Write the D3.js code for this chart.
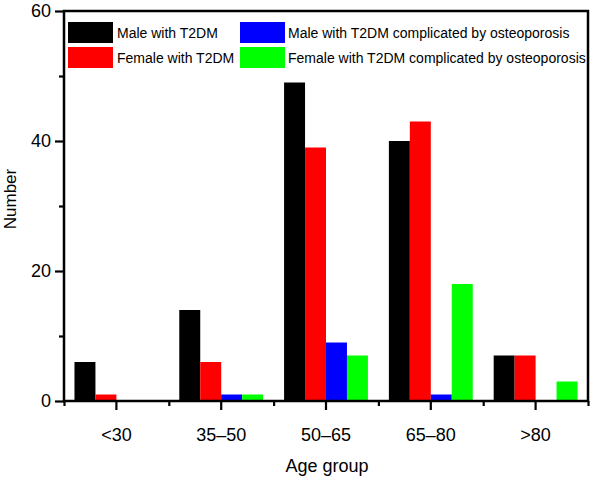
<!DOCTYPE html>
<html><head><meta charset="utf-8">
<script src="https://cdn.jsdelivr.net/npm/d3@7"></script>
<style>
html,body{margin:0;padding:0;background:#fff;}
svg{display:block;font-family:"Liberation Sans",Arial,Helvetica,sans-serif;}
</style></head>
<body>
<svg id="chart" width="592" height="479"></svg>
<script>
const categories = ["<30", "35\u201350", "50\u201365", "65\u201380", ">80"];
const seriesNames = ["Male with T2DM", "Female with T2DM", "Male with T2DM complicated by osteoporosis", "Female with T2DM complicated by osteoporosis"];
const seriesColors = ["#000000", "#ff0000", "#0000ff", "#00ff00"];
const maleT2DM = [6, 14, 49, 40, 7];
const femaleT2DM = [1, 6, 39, 43, 7];
const maleOsteo = [0, 1, 9, 1, 0];
const femaleOsteo = [0, 1, 7, 18, 3];
const yMajorTicks = [0, 20, 40, 60];
const yMinorTicks = [10, 30, 50];
const xTitle = "Age group";
const yTitle = "Number";

const values = [maleT2DM, femaleT2DM, maleOsteo, femaleOsteo];
const svg = d3.select("#chart");
const L = 64, R = 588, T = 11, B = 401;

const x = d3.scaleBand().domain(categories).range([L, R]).padding(0);
const bw = x.bandwidth();
const xi = d3.scaleBand().domain(d3.range(4)).range([0, bw * 0.8]).padding(0);
const y = d3.scaleLinear().domain([0, 60]).range([B, T]);

// bars
const groups = svg.append("g").selectAll("g").data(categories).join("g")
  .attr("transform", d => `translate(${x(d) + bw * 0.1},0)`);
groups.selectAll("rect").data((d, ci) => values.map((s, si) => ({si, v: s[ci]})))
  .join("rect")
  .attr("x", d => xi(d.si))
  .attr("width", xi.bandwidth())
  .attr("y", d => y(d.v))
  .attr("height", d => y(0) - y(d.v))
  .attr("fill", d => seriesColors[d.si]);

// y axis major
const yAxis = svg.append("g").attr("transform", `translate(${L},0)`)
  .call(d3.axisLeft(y).tickValues(yMajorTicks).tickSize(9).tickPadding(4).tickFormat(d3.format("d")));
yAxis.select(".domain").remove();
yAxis.selectAll("line").attr("stroke", "#000").attr("stroke-width", 2.2);
yAxis.selectAll("text").attr("font-size", 18).attr("fill", "#000").attr("font-family", "Liberation Sans, Arial, sans-serif");
const yMin = svg.append("g").attr("transform", `translate(${L},0)`)
  .call(d3.axisLeft(y).tickValues(yMinorTicks).tickSize(5).tickFormat(""));
yMin.select(".domain").remove();
yMin.selectAll("line").attr("stroke", "#000").attr("stroke-width", 2.2);

// x axis major (category centers)
const xAxis = svg.append("g").attr("transform", `translate(0,${B})`)
  .call(d3.axisBottom(x).tickSize(9).tickPadding(18));
xAxis.select(".domain").remove();
xAxis.selectAll("line").attr("stroke", "#000").attr("stroke-width", 2.2);
xAxis.selectAll("text").attr("font-size", 18).attr("fill", "#000").attr("font-family", "Liberation Sans, Arial, sans-serif");
// minor x ticks at band boundaries
const xb = d3.scaleLinear().domain([0, categories.length]).range([L, R]);
const xMin = svg.append("g").attr("transform", `translate(0,${B})`)
  .call(d3.axisBottom(xb).tickValues(d3.range(categories.length + 1)).tickSize(5).tickFormat(""));
xMin.select(".domain").remove();
xMin.selectAll("line").attr("stroke", "#000").attr("stroke-width", 2.2);

// frame
svg.append("rect").attr("x", L).attr("y", T).attr("width", R - L).attr("height", B - T)
  .attr("fill", "none").attr("stroke", "#000").attr("stroke-width", 2.5);

// titles
svg.append("text").attr("x", (L + R) / 2 + 1).attr("y", 472).attr("text-anchor", "middle")
  .attr("font-size", 18).text(xTitle);
svg.append("text").attr("transform", `translate(16,199) rotate(-90)`).attr("text-anchor", "middle")
  .attr("font-size", 17).text(yTitle);

// legend
const legPos = [[68, 22], [68, 47], [240, 22], [240, 47]];
const leg = svg.append("g").selectAll("g").data(seriesNames).join("g")
  .attr("transform", (d, i) => `translate(${legPos[i][0]},${legPos[i][1]})`);
leg.append("rect").attr("width", 45).attr("height", 21).attr("fill", (d, i) => seriesColors[i]);
leg.append("text").attr("x", (d, i) => i < 2 ? 49 : 48).attr("y", 15.5).attr("font-size", 14).text(d => d);
</script>
</body></html>
